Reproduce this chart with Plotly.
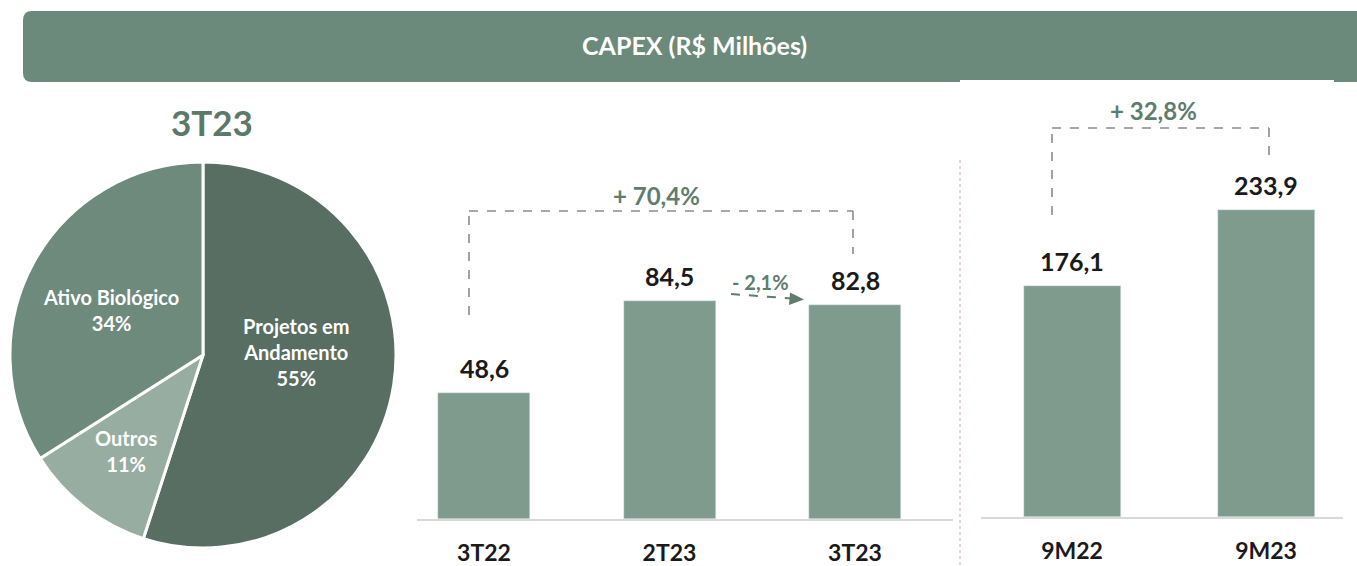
import math
import plotly.graph_objects as go

W, H = 1357, 566

# ---- data ----
pie_labels = ["Projetos em<br>Andamento", "Outros", "Ativo Biológico"]
pie_values = [55, 11, 34]
pie_colors = ["#586e62", "#97ada2", "#6e8a7c"]

q_categories = ["3T22", "2T23", "3T23"]
q_values = [48.6, 84.5, 82.8]

y_categories = ["9M22", "9M23"]
y_values = [176.1, 233.9]

title_text = "CAPEX (R$ Milhões)"
pie_title = "3T23"
q_change_total = "+ 70,4%"
q_change_last = "- 2,1%"
y_change = "+ 32,8%"

BAR = "#7f9b8e"
GREEN_TXT = "#5f7d6e"
FONT = "Lato"


def px(x):
    return x / W


def py(y):
    return 1 - y / H


def fmt(v):
    return f"{v:.1f}".replace(".", ",")


fig = go.Figure()

# pie
PCX, PCY, PR = 203, 355, 193
fig.add_trace(go.Pie(
    labels=pie_labels, values=pie_values, sort=False, direction="clockwise",
    rotation=0, marker=dict(colors=pie_colors, line=dict(color="white", width=3)),
    textinfo="none",
    domain=dict(x=[px(PCX - PR), px(PCX + PR)], y=[py(PCY + PR), py(PCY - PR)]),
    showlegend=False, hoverinfo="label+percent",
))

ann = []
# pie labels placed near each slice's mid-angle
label_r = [0.48, 0.64, 0.53]
label_da = [-11, 1, -3]
tot = sum(pie_values)
cum = 0
for lab, v, rf, da in zip(pie_labels, pie_values, label_r, label_da):
    mid = (cum + v / 2) / tot * 2 * math.pi + math.radians(da)
    cum += v
    lx = PCX + rf * PR * math.sin(mid)
    ly = PCY - rf * PR * math.cos(mid)
    ann.append(dict(x=px(lx), y=py(ly), xref="paper", yref="paper",
                    text=f"<b>{lab}<br>{v}%</b>", showarrow=False,
                    xanchor="center", yanchor="middle", align="center",
                    font=dict(family=FONT, size=20, color="white")))

# quarterly bars
qx = list(range(len(q_categories)))
fig.add_trace(go.Bar(x=qx, y=q_values, width=0.496, marker_color=BAR,
                     xaxis="x", yaxis="y", showlegend=False))
# 9M bars
yx = list(range(len(y_categories)))
fig.add_trace(go.Bar(x=yx, y=y_values, width=0.5, marker_color=BAR,
                     xaxis="x2", yaxis="y2", showlegend=False))

for i, v in enumerate(q_values):
    ann.append(dict(x=qx[i], y=v, xref="x", yref="y", text=f"<b>{fmt(v)}</b>",
                    showarrow=False, xanchor="center", yanchor="middle", yshift=25,
                    font=dict(family=FONT, size=25, color="#1a1a1a")))
for i, v in enumerate(y_values):
    ann.append(dict(x=yx[i], y=v, xref="x2", yref="y2", text=f"<b>{fmt(v)}</b>",
                    showarrow=False, xanchor="center", yanchor="middle", yshift=25,
                    font=dict(family=FONT, size=25, color="#1a1a1a")))


def txt(x, y, t, size, color):
    return dict(x=px(x), y=py(y), xref="paper", yref="paper", text=f"<b>{t}</b>",
                showarrow=False, xanchor="center", yanchor="middle",
                font=dict(family=FONT, size=size, color=color))


ann.append(txt(694, 45, title_text, 25, "white"))
ann.append(txt(212, 122, pie_title, 35, "#5b7868"))
ann.append(txt(656, 195, q_change_total, 24, GREEN_TXT))
ann.append(txt(761, 282, q_change_last, 20, GREEN_TXT))
ann.append(txt(1153, 110, y_change, 24, GREEN_TXT))

shapes = []
r = 9
x0, x1, y0, y1 = 23, 1370, 11, 82
path = (f"M {px(x0+r)},{py(y0)} L {px(x1)},{py(y0)} L {px(x1)},{py(y1)} L {px(x0+r)},{py(y1)} "
        f"Q {px(x0)},{py(y1)} {px(x0)},{py(y1-r)} L {px(x0)},{py(y0+r)} "
        f"Q {px(x0)},{py(y0)} {px(x0+r)},{py(y0)} Z")
shapes.append(dict(type="path", path=path, xref="paper", yref="paper",
                   fillcolor="#6b8a7b", line=dict(width=0), layer="below"))
shapes.append(dict(type="rect", x0=px(960), x1=px(1334), y0=py(84), y1=py(80),
                   xref="paper", yref="paper", fillcolor="white", line=dict(width=0)))

DASH = dict(color="#8c8c8c", width=1.6, dash="dash")
for (a, b, c, d) in [(469, 315, 469, 211), (469, 211, 853, 211), (853, 211, 853, 254),
                     (1052, 215, 1052, 128), (1052, 128, 1269, 128), (1269, 128, 1269, 163)]:
    shapes.append(dict(type="line", x0=px(a), y0=py(b), x1=px(c), y1=py(d),
                       xref="paper", yref="paper", line=DASH))
# dashed arrow
shapes.append(dict(type="line", x0=px(731), y0=py(294), x1=px(792), y1=py(298.5),
                   xref="paper", yref="paper", line=dict(color=GREEN_TXT, width=2, dash="dash")))
shapes.append(dict(type="path",
                   path=f"M {px(790)},{py(292.5)} L {px(804)},{py(299.5)} L {px(789)},{py(305)} Z",
                   xref="paper", yref="paper", fillcolor=GREEN_TXT, line=dict(width=0)))
# separator
shapes.append(dict(type="line", x0=px(960), x1=px(960), y0=py(160), y1=py(566),
                   xref="paper", yref="paper", line=dict(color="#d2b9bd", width=1.2, dash="dot")))

axis_common = dict(showgrid=False, zeroline=False, showline=True, linecolor="#d9d9d9",
                   linewidth=2, ticks="", tickfont=dict(family=FONT, size=23, color="#1a1a1a",
                                                         weight="bold"),
                   ticklabelstandoff=12, fixedrange=True)

fig.update_layout(
    width=W, height=H, margin=dict(l=0, r=0, t=0, b=0),
    paper_bgcolor="white", plot_bgcolor="white",
    xaxis=dict(domain=[px(417), px(953)], range=[(417-484)/185.5, (953-484)/185.5],
               tickvals=qx, ticktext=q_categories, anchor="y", **axis_common),
    yaxis=dict(domain=[py(519), py(100)], range=[0, 419/2.585], visible=False,
               fixedrange=True),
    xaxis2=dict(domain=[px(981), px(1343)], range=[(981-1072)/194, (1343-1072)/194],
                tickvals=yx, ticktext=y_categories, anchor="y2", **axis_common),
    yaxis2=dict(domain=[py(517), py(100)], range=[0, 417/1.314], visible=False,
                fixedrange=True),
    annotations=ann, shapes=shapes, bargap=0,
)

fig.write_html("out.html", config={"displayModeBar": False},
               post_script="document.body.style.margin='0';document.body.style.overflow='hidden';")
